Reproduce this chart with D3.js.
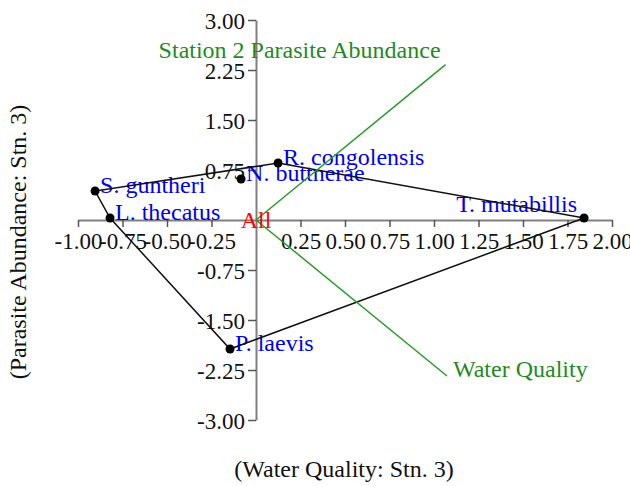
<!DOCTYPE html>
<html>
<head>
<meta charset="utf-8">
<script src="https://cdn.jsdelivr.net/npm/d3@7"></script>
<style>
  html, body { margin: 0; padding: 0; background: #fff; }
  svg { display: block; font-family: "Liberation Serif", "Times New Roman", serif; }
</style>
</head>
<body>
<svg width="630" height="486"></svg>
<script>
// species scores (Water Quality: Stn. 3 vs Parasite Abundance: Stn. 3)
const species = ["S. guntheri", "L. thecatus", "N. buttnerae", "R. congolensis", "T. mutabillis", "P. laevis"];
const xVals = [-0.904, -0.82, -0.084, 0.124, 1.843, -0.146];
const yVals = [0.435, 0.03, 0.615, 0.855, 0.03, -1.935];

// biplot vectors
const vecNames = ["Station 2 Parasite Abundance", "Water Quality"];
const vecX = [1.065, 1.073];
const vecY = [2.33, -2.34];

// tick labels
const xTicks = [-1, -0.75, -0.5, -0.25, 0.25, 0.5, 0.75, 1, 1.25, 1.5, 1.75, 2];
const yTicks = [3, 2.25, 1.5, 0.75, -0.75, -1.5, -2.25, -3];

const svg = d3.select("svg");
const width = 630;
const serif = "'Liberation Serif', 'Times New Roman', serif";

const x = d3.scaleLinear().domain([-1, 2]).range([78, 612]);
const y = d3.scaleLinear().domain([-3, 3]).range([420, 20]);
const fmt = (d) => d.toFixed(2);

// 축
const gx = svg.append("g")
  .attr("transform", `translate(0, ${y(0)})`)
  .call(d3.axisBottom(x).tickValues(xTicks).tickFormat(fmt).tickSize(7).tickSizeOuter(0).tickPadding(6));
const gy = svg.append("g")
  .attr("transform", `translate(${x(0)}, 0)`)
  .call(d3.axisLeft(y).tickValues(yTicks).tickFormat(fmt).tickSize(8).tickSizeOuter(0).tickPadding(3));

[gx, gy].forEach((g) => {
  g.attr("font-family", serif).attr("font-size", 23);
  g.select(".domain").attr("stroke", "#808080").attr("stroke-width", 2);
  g.selectAll(".tick line").attr("stroke", "#555").attr("stroke-width", 1.5);
  g.selectAll(".tick text").attr("fill", "#111");
});
gy.selectAll(".tick text").attr("dy", "0.35em");

// axis titles
svg.append("text")
  .attr("x", 344).attr("y", 477)
  .attr("text-anchor", "middle")
  .style("font-size", "24px")
  .attr("fill", "#111")
  .text("(Water Quality: Stn. 3)");
svg.append("text")
  .attr("transform", "translate(26, 242) rotate(-90)")
  .attr("text-anchor", "middle")
  .style("font-size", "24px")
  .attr("fill", "#111")
  .text("(Parasite Abundance: Stn. 3)");

const pts = species.map((name, i) => ({ name, px: x(xVals[i]), py: y(yVals[i]) }));

// species labels (오른쪽 끝을 넘으면 왼쪽에 붙임)
svg.selectAll("text.sp")
  .data(pts)
  .enter()
  .append("text")
  .attr("class", "sp")
  .style("font-size", "24px")
  .attr("fill", "#0000ee")
  .text((d) => d.name)
  .each(function (d) {
    const w = this.getComputedTextLength();
    const t = d3.select(this);
    if (d.px + 6 + w > width) {
      t.attr("x", d.px - 7).attr("y", d.py - 6).attr("text-anchor", "end");
    } else {
      t.attr("x", d.px + 5).attr("y", d.py + 2);
    }
  });

// convex hull
const hull = d3.polygonHull(pts.map((d) => [d.px, d.py]));
svg.append("path")
  .attr("d", "M" + hull.join("L") + "Z")
  .attr("fill", "none")
  .attr("stroke", "#111")
  .attr("stroke-width", 1.5);

// vectors
const vecs = vecNames.map((name, i) => ({ name, vx: x(vecX[i]), vy: y(vecY[i]) }));
svg.selectAll("line.vec")
  .data(vecs)
  .enter()
  .append("line")
  .attr("class", "vec")
  .attr("x1", x(0)).attr("y1", y(0))
  .attr("x2", (d) => d.vx).attr("y2", (d) => d.vy)
  .attr("stroke", "#2a9a2a")
  .attr("stroke-width", 1.5);

svg.selectAll("text.vec")
  .data(vecs)
  .enter()
  .append("text")
  .attr("class", "vec")
  .style("font-size", "24px")
  .attr("fill", "#1f8a1f")
  .attr("x", (d) => (d.vy < y(0) ? d.vx - 5 : d.vx + 6))
  .attr("y", (d) => (d.vy < y(0) ? d.vy - 7 : d.vy + 1))
  .attr("text-anchor", (d) => (d.vy < y(0) ? "end" : "start"))
  .text((d) => d.name);

// origin label
svg.append("text")
  .attr("x", x(0)).attr("y", y(0))
  .attr("dy", "0.35em")
  .attr("text-anchor", "middle")
  .style("font-size", "24px")
  .attr("fill", "#ff0000")
  .text("All");

// dots
svg.selectAll("circle")
  .data(pts)
  .enter()
  .append("circle")
  .attr("cx", (d) => d.px)
  .attr("cy", (d) => d.py)
  .attr("r", 4.5)
  .attr("fill", "#000");
</script>
</body>
</html>
